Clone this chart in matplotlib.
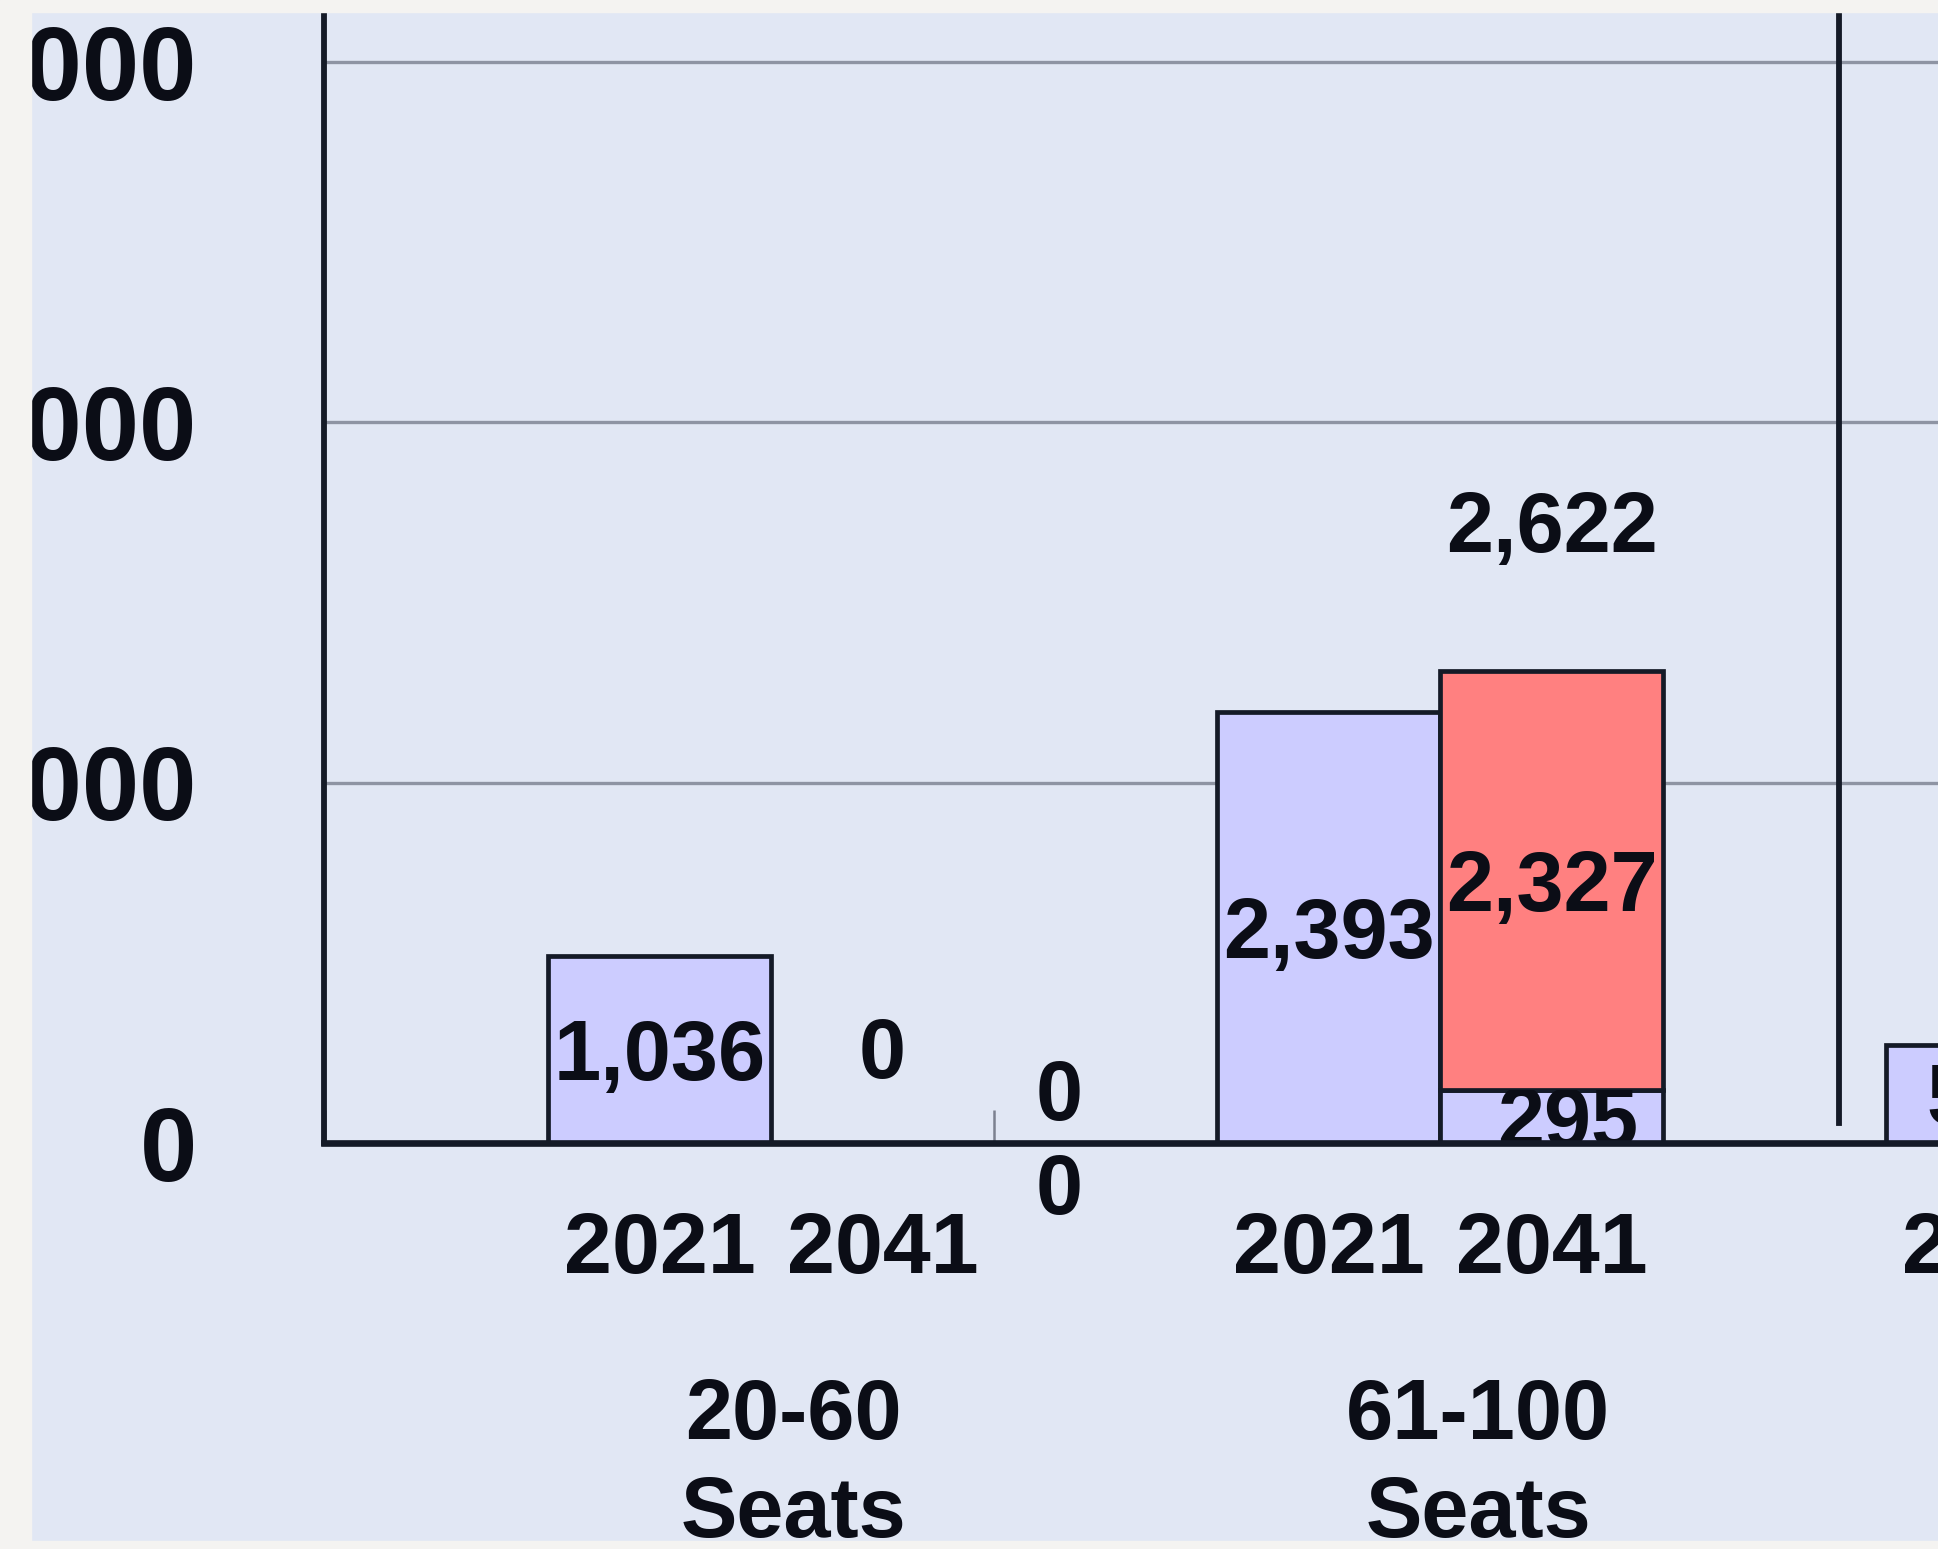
import numpy as np
import matplotlib.pyplot as plt
from matplotlib.patches import Rectangle

# ---- data ----
years = ['2021', '2041', '', '2021', '2041', '', '2021']
seat_groups = ['20-60', '61-100']
group_centres = [0.6, 3.67]            # category position of each group label
lower_vals = [1036, 0, 0, 2393, 295, 0, 545]   # lavender series
upper_vals = [0, 0, 0, 0, 2327, 0, 0]          # red series
y_ticks = [0, 2000, 4000, 6000]
y_tick_labels = ['0', '2,000', '4,000', '6,000']
# stray zero labels of the empty series: (category, value)
zero_labels = [(1.0, 528), (1.79, 294), (1.79, -228)]
separator_x = 5.29

# ---- style ----
W, H, DPI = 1938, 1549, 100
PANEL = '#E1E7F4'
OUTER = '#F4F3F1'
LAVENDER = '#CCCCFF'
CORAL = '#FF8080'
INK = '#0B0D16'
LINE = '#141A27'
FONT = 'Liberation Sans'

plt.rcParams['font.family'] = [FONT, 'DejaVu Sans']
plt.rcParams['font.weight'] = 'bold'

fig = plt.figure(figsize=(W / DPI, H / DPI), dpi=DPI, facecolor=PANEL)

# axes box in pixels: left spine x=324, top y=12, baseline y=1143
ax_l, ax_t, ax_b = 324, 12, 1143
ax = fig.add_axes([ax_l / W, (H - ax_b) / H, (W - ax_l) / W, (ax_b - ax_t) / H])
ax.set_facecolor(PANEL)

px_per_unit = 1081 / 6000
x_min = -1.505
x_max = x_min + (W - ax_l) / 223

x = np.arange(len(years))
lower_bars = ax.bar(x, lower_vals, width=1.0, color=LAVENDER, edgecolor=LINE,
                    linewidth=3.4, zorder=3)
upper_bars = ax.bar(x, upper_vals, width=1.0, bottom=lower_vals, color=CORAL,
                    edgecolor=LINE, linewidth=3.4, zorder=3)
for i in range(len(years)):
    if lower_vals[i] == 0:
        lower_bars[i].set_visible(False)
    if upper_vals[i] == 0:
        upper_bars[i].set_visible(False)

# grid / spines / ticks
ax.set_axisbelow(True)
ax.set_yticks(y_ticks, y_tick_labels)
ax.yaxis.grid(True, color='#8E94A3', linewidth=2.4)
ax.tick_params(axis='y', length=0, pad=127 * 72 / DPI, labelsize=74, labelcolor=INK)
ax.set_xticks([])
ax.set_xticks(np.arange(-1.5, x_max), minor=True)
ax.tick_params(axis='x', which='minor', direction='in', length=24, width=1.8,
               color='#7C8190')
ax.set_xlim(x_min, x_max)
ax.set_ylim(0, (ax_b - ax_t) / px_per_unit)
for side in ['top', 'right']:
    ax.spines[side].set_visible(False)
ax.spines['left'].set_linewidth(4.2)
ax.spines['left'].set_color(LINE)
ax.spines['bottom'].set_linewidth(4.8)
ax.spines['bottom'].set_color(LINE)
ax.spines['bottom'].set_zorder(5)

ax.axvline(separator_x, ymin=0.018, ymax=1, color=LINE, linewidth=4.2, zorder=2.5)


def label(xv, yv, s, size=61, dy=0, coords='data'):
    # centre the digits (not the text box) on the given point
    h = 0.716 * size * DPI / 72
    return ax.annotate(s, (xv, yv), xycoords=coords,
                       xytext=(0, dy - h / 2), textcoords='offset pixels',
                       ha='center', va='baseline', fontsize=size,
                       fontweight='bold', color=INK, annotation_clip=False,
                       zorder=4)


# value labels inside bars
for i, (lo, up) in enumerate(zip(lower_vals, upper_vals)):
    if lo:
        t = label(i + (0.07 if lo < 400 and up else 0), lo / 2, f'{lo:,}')
        if lo < 400:
            t.set_clip_path(lower_bars[i])
    if up:
        label(i, lo + up / 2, f'{up:,}')
        label(i, lo + up, f'{lo + up:,}', dy=149)

for xv, yv in zero_labels:
    label(xv, yv, '0')

# category labels under the axis
xaxis_tr = ax.get_xaxis_transform()
for i, yr in enumerate(years):
    if yr:
        label(i, 0, yr, size=62, dy=-99, coords=xaxis_tr)
for name, c in zip(seat_groups, group_centres):
    label(c, 0, name, size=61, dy=-266, coords=xaxis_tr)
    label(c, 0, 'Seats', size=61, dy=-364, coords=xaxis_tr)

# outer frame strips (the picture is cut out of a larger slide)
for rx, ry, rw, rh in [(0, 0, 31, H), (0, 0, W, 8), (0, H - 12, W, 12)]:
    fig.add_artist(Rectangle((rx / W, ry / H), rw / W, rh / H,
                             transform=fig.transFigure, color=OUTER,
                             zorder=10))

fig.savefig('out.png', dpi=DPI, facecolor=PANEL)
